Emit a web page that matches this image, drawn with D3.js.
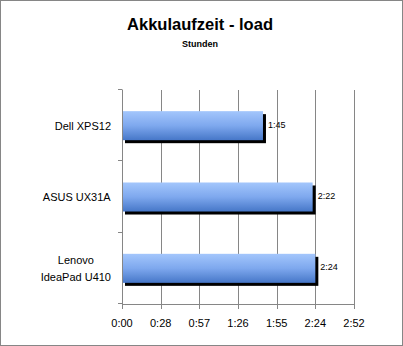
<!DOCTYPE html>
<html>
<head>
<meta charset="utf-8">
<script src="https://cdn.jsdelivr.net/npm/d3@7"></script>
<style>
  html, body { margin: 0; padding: 0; background: #fff; }
  svg { display: block; }
</style>
</head>
<body>
<svg id="chart" width="403" height="346"></svg>
<script>
// ---- Daten
const categories = ['Dell XPS12', 'ASUS UX31A', 'Lenovo\nIdeaPad U410'];
const minutes = [105, 142, 144];
const valueLabels = ['1:45', '2:22', '2:24'];
const tickValues = [0, 28.8, 57.6, 86.4, 115.2, 144, 172.8];
const tickLabels = ['0:00', '0:28', '0:57', '1:26', '1:55', '2:24', '2:52'];

const svg = d3.select('#chart');
const W = 403, H = 346;
const font = '"Liberation Sans", Arial, sans-serif';
const gridColor = '#868686';

// ---- Rahmen
svg.append('rect')
    .attr('x', 0.5).attr('y', 0.5)
    .attr('width', W - 1).attr('height', H - 1)
    .attr('fill', '#fff')
    .attr('stroke', gridColor);

// ---- Gradient für die Balken
const grad = svg.append('defs').append('linearGradient')
    .attr('id', 'barGrad')
    .attr('x1', 0).attr('y1', 0).attr('x2', 0).attr('y2', 1);
grad.append('stop').attr('offset', '0%').attr('stop-color', '#a3c6fc');
grad.append('stop').attr('offset', '50%').attr('stop-color', '#7ea8ee');
grad.append('stop').attr('offset', '100%').attr('stop-color', '#4677c8');

// ---- Titel
svg.append('text')
    .attr('x', 200).attr('y', 30)
    .attr('text-anchor', 'middle')
    .attr('textLength', 146)
    .attr('lengthAdjust', 'spacingAndGlyphs')
    .style('font-family', font)
    .style('font-weight', 'bold')
    .style('font-size', '17px')
    .text('Akkulaufzeit - load');

svg.append('text')
    .attr('x', 200).attr('y', 47)
    .attr('text-anchor', 'middle')
    .style('font-family', font)
    .style('font-weight', 'bold')
    .style('font-size', '9px')
    .text('Stunden');

// ---- Skalen
const mapX = d3.scaleLinear().domain([0, 172.8]).range([122, 354]);
const mapY = d3.scaleBand().domain(categories).range([90, 304])
    .paddingInner(0.593).paddingOuter(0.2965);
const px = v => Math.round(mapX(v)) + 0.5;

// ---- Gitterlinien
svg.append('g')
    .selectAll('line')
    .data(tickValues.slice(1))
    .join('line')
    .attr('x1', px).attr('x2', px)
    .attr('y1', 90).attr('y2', 304)
    .attr('stroke', gridColor);

// ---- Balken (Schatten + Balken)
const data = categories.map((c, i) => ({ cat: c, val: minutes[i], label: valueLabels[i] }));

svg.append('g')
    .selectAll('rect')
    .data(data)
    .join('rect')
    .attr('x', mapX(0) + 3)
    .attr('y', d => mapY(d.cat) + 3)
    .attr('width', d => mapX(d.val) - mapX(0))
    .attr('height', mapY.bandwidth())
    .attr('fill', '#000');

svg.append('g')
    .selectAll('rect')
    .data(data)
    .join('rect')
    .attr('x', mapX(0))
    .attr('y', d => mapY(d.cat))
    .attr('width', d => mapX(d.val) - mapX(0))
    .attr('height', mapY.bandwidth())
    .attr('fill', 'url(#barGrad)');

// ---- Werte
svg.append('g')
    .selectAll('text')
    .data(data)
    .join('text')
    .attr('x', d => mapX(d.val) + 5)
    .attr('y', d => mapY(d.cat) + mapY.bandwidth() / 2 + 2)
    .style('font-family', font)
    .style('font-size', '9px')
    .text(d => d.label);

// ---- Achsen
const axisG = svg.append('g').attr('stroke', gridColor);
axisG.append('line')
    .attr('x1', 122.5).attr('x2', 122.5).attr('y1', 89.5).attr('y2', 304.5);
axisG.append('line')
    .attr('x1', 122).attr('x2', 355).attr('y1', 304.5).attr('y2', 304.5);

const bandEdges = [90, ...categories.map(c => mapY(c) + mapY.bandwidth() / 2 + mapY.step() / 2)];
axisG.selectAll('.yt')
    .data(bandEdges)
    .join('line')
    .attr('class', 'yt')
    .attr('x1', 118).attr('x2', 122)
    .attr('y1', d => Math.round(d) - 0.5).attr('y2', d => Math.round(d) - 0.5);

axisG.selectAll('.xt')
    .data(tickValues)
    .join('line')
    .attr('class', 'xt')
    .attr('x1', px).attr('x2', px)
    .attr('y1', 304).attr('y2', 309);

svg.append('g')
    .selectAll('text')
    .data(tickValues)
    .join('text')
    .attr('x', d => mapX(d))
    .attr('y', 327)
    .attr('text-anchor', 'middle')
    .style('font-family', font)
    .style('font-size', '11px')
    .text((d, i) => tickLabels[i]);

// ---- Kategorien
svg.append('g')
    .selectAll('text')
    .data(categories)
    .join('text')
    .attr('text-anchor', 'middle')
    .style('font-family', font)
    .style('font-size', '11px')
    .each(function (d) {
        const lines = d.split('\n');
        const cy = mapY(d) + mapY.bandwidth() / 2;
        const el = d3.select(this);
        const widest = d3.max(lines, l => l.length);
        lines.forEach((l, i) => {
            el.append('tspan')
                .attr('x', 0)
                .attr('y', cy + 4 + (i - (lines.length - 1) / 2) * 17)
                .text(l);
        });
    })
    .each(function () {
        // rechtsbündig am Block, Zeilen zentriert
        const bb = this.getBBox();
        d3.select(this).attr('transform', `translate(${111 - bb.width / 2},0)`);
    });
</script>
</body>
</html>
